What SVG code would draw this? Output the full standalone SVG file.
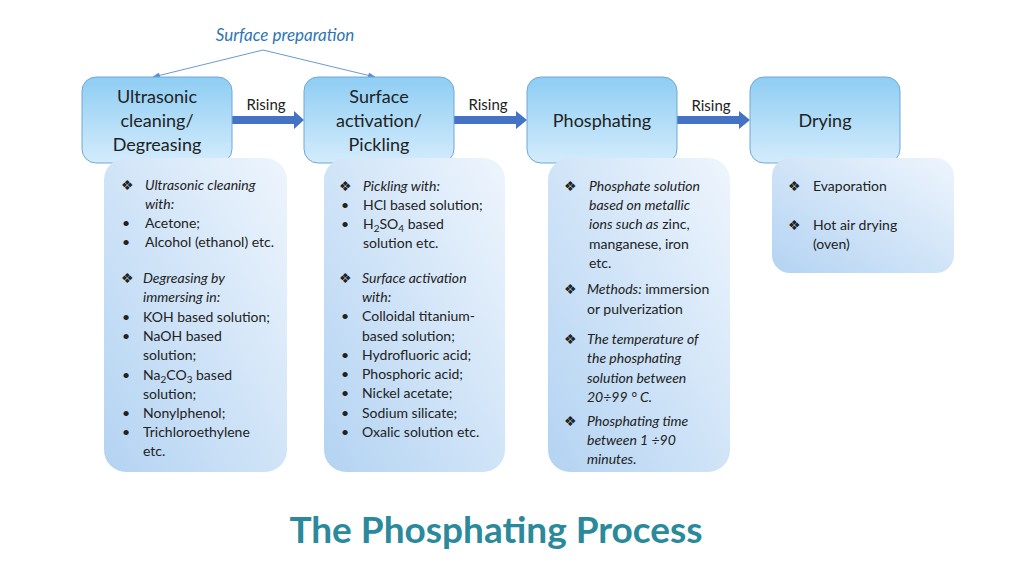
<svg xmlns="http://www.w3.org/2000/svg" width="1030" height="579" viewBox="0 0 1030 579">
<defs>
<linearGradient id="gTop" x1="0" y1="0" x2="0" y2="1"><stop offset="0" stop-color="#8ecdf3"/><stop offset="1" stop-color="#d4ecfc"/></linearGradient>
<linearGradient id="gDet" x1="1" y1="0" x2="0" y2="1"><stop offset="0" stop-color="#eef5fd"/><stop offset="1" stop-color="#b3d3f2"/></linearGradient>
<marker id="thin" markerWidth="8" markerHeight="6" refX="7" refY="3" orient="auto" markerUnits="userSpaceOnUse"><path d="M0,0 L8,3 L0,6 z" fill="#5b8fc9"/></marker>
<style>
.top{fill:url(#gTop);stroke:#6fa8d8;stroke-width:1}
.det{fill:url(#gDet)}
.tt{font-family:Lato,"Open Sans",sans-serif;font-size:18px;fill:#222;text-anchor:middle}
.t{font-family:Lato,"Open Sans",sans-serif;font-size:14px;fill:#222}
.i{font-style:italic}
.lbl{font-family:Lato,"Open Sans",sans-serif;font-size:15px;fill:#222;text-anchor:middle}
.big{fill:#4472c4}
</style>
</defs>
<rect width="1030" height="579" fill="#fff"/>
<g id="connectors">
<path d="M263,50 L153,77" stroke="#6a9bd0" stroke-width="1" fill="none" marker-end="url(#thin)"/>
<path d="M263,50 L375,77" stroke="#6a9bd0" stroke-width="1" fill="none" marker-end="url(#thin)"/>
<path class="big" d="M232,116 H294 V111 L304,120 L294,129 V124 H232 z"/>
<path class="big" d="M454,116 H516 V111 L527,120 L516,129 V124 H454 z"/>
<path class="big" d="M677,116 H739 V111 L750,120 L739,129 V124 H677 z"/>
<text class="lbl" x="266" y="110">Rising</text>
<text class="lbl" x="488" y="110">Rising</text>
<text class="lbl" x="711" y="111">Rising</text>
</g>
<text x="285" y="41" font-family="Lato,'Open Sans',sans-serif" font-size="17" font-style="italic" fill="#2e75b6" text-anchor="middle">Surface preparation</text>
<g id="n1"><rect class="top" x="82" y="77" width="150" height="86" rx="14"/>
<text class="tt" x="157" y="103">Ultrasonic</text><text class="tt" x="157" y="127">cleaning/</text><text class="tt" x="157" y="151">Degreasing</text></g>
<g id="n2"><rect class="top" x="304" y="77" width="150" height="86" rx="14"/>
<text class="tt" x="379" y="103">Surface</text><text class="tt" x="379" y="127">activation/</text><text class="tt" x="379" y="151">Pickling</text></g>
<g id="n3"><rect class="top" x="527" y="77" width="150" height="86" rx="14"/>
<text class="tt" x="602" y="127">Phosphating</text></g>
<g id="n4"><rect class="top" x="750" y="77" width="150" height="86" rx="14"/>
<text class="tt" x="825" y="127">Drying</text></g>
<g id="d1"><rect class="det" x="104" y="158" width="183" height="314" rx="22"/>
<g class="t">
<text x="121" y="190">❖</text><text class="i" x="145" y="190">Ultrasonic cleaning</text><text class="i" x="145" y="209">with:</text>
<text x="122" y="228">•</text><text x="145" y="228">Acetone;</text>
<text x="122" y="247">•</text><text x="145" y="247">Alcohol (ethanol) etc.</text>
<text x="121" y="283">❖</text><text class="i" x="143" y="283">Degreasing by</text><text class="i" x="143" y="302">immersing in:</text>
<text x="122" y="322">•</text><text x="143" y="322">KOH based solution;</text>
<text x="122" y="341">•</text><text x="143" y="341">NaOH based</text><text x="143" y="360">solution;</text>
<text x="122" y="380">•</text><text x="143" y="380">Na<tspan font-size="10" dy="3">2</tspan><tspan dy="-3">CO</tspan><tspan font-size="10" dy="3">3</tspan><tspan dy="-3"> based</tspan></text><text x="143" y="399">solution;</text>
<text x="122" y="418">•</text><text x="143" y="418">Nonylphenol;</text>
<text x="122" y="437">•</text><text x="143" y="437">Trichloroethylene</text><text x="143" y="456">etc.</text>
</g></g>
<g id="d2"><rect class="det" x="324" y="158" width="181" height="314" rx="22"/>
<g class="t">
<text x="339" y="191">❖</text><text class="i" x="363" y="191">Pickling with:</text>
<text x="341" y="210">•</text><text x="363" y="210">HCl based solution;</text>
<text x="341" y="229">•</text><text x="363" y="229">H<tspan font-size="10" dy="3">2</tspan><tspan dy="-3">SO</tspan><tspan font-size="10" dy="3">4</tspan><tspan dy="-3"> based</tspan></text><text x="363" y="248">solution etc.</text>
<text x="339" y="283">❖</text><text class="i" x="362" y="283">Surface activation</text><text class="i" x="362" y="302">with:</text>
<text x="341" y="321">•</text><text x="362" y="321">Colloidal titanium-</text><text x="362" y="341">based solution;</text>
<text x="341" y="360">•</text><text x="362" y="360">Hydrofluoric acid;</text>
<text x="341" y="379">•</text><text x="362" y="379">Phosphoric acid;</text>
<text x="341" y="398">•</text><text x="362" y="398">Nickel acetate;</text>
<text x="341" y="418">•</text><text x="362" y="418">Sodium silicate;</text>
<text x="341" y="437">•</text><text x="362" y="437">Oxalic solution etc.</text>
</g></g>
<g id="d3"><rect class="det" x="548" y="158" width="182" height="314" rx="22"/>
<g class="t">
<text x="564" y="191">❖</text><text class="i" x="589" y="191">Phosphate solution</text><text class="i" x="589" y="210">based on metallic</text><text x="589" y="229"><tspan class="i">ions such as</tspan> zinc,</text><text x="589" y="249">manganese, iron</text><text x="589" y="268">etc.</text>
<text x="564" y="294">❖</text><text x="587" y="294"><tspan class="i">Methods:</tspan> immersion</text><text x="587" y="314">or pulverization</text>
<text x="564" y="344">❖</text><text class="i" x="587" y="344">The temperature of</text><text class="i" x="587" y="363">the phosphating</text><text class="i" x="587" y="383">solution between</text><text class="i" x="587" y="402">20÷99 ° C.</text>
<text x="564" y="426">❖</text><text class="i" x="587" y="426">Phosphating time</text><text class="i" x="587" y="445">between 1 ÷90</text><text class="i" x="587" y="464">minutes.</text>
</g></g>
<g id="d4"><rect class="det" x="772" y="158" width="182" height="115" rx="18"/>
<g class="t">
<text x="788" y="191">❖</text><text x="813" y="191">Evaporation</text>
<text x="788" y="230">❖</text><text x="813" y="230">Hot air drying</text><text x="813" y="249">(oven)</text>
</g></g>
<text x="496" y="543" font-family="Lato,'Open Sans',sans-serif" font-size="37" font-weight="bold" fill="#2a8a9c" text-anchor="middle">The Phosphating Process</text>
</svg>
